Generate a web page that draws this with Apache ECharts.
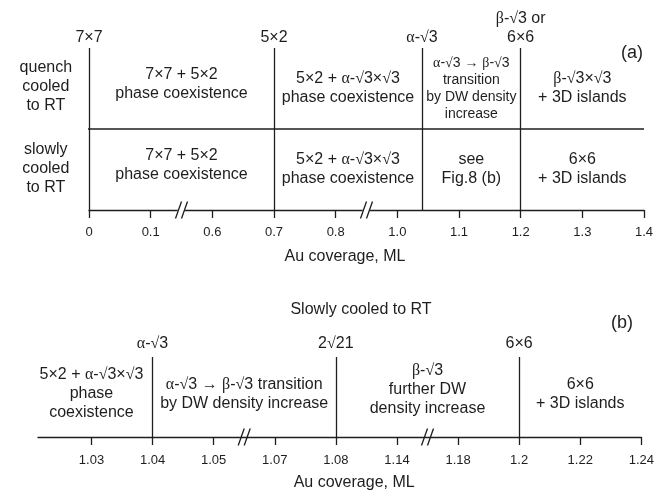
<!DOCTYPE html>
<html>
<head>
<meta charset="utf-8">
<script src="https://cdn.jsdelivr.net/npm/echarts@6/dist/echarts.min.js"></script>
<style>
html, body { margin: 0; background: #fff; }
#chart { width: 657px; height: 493px; }
</style>
</head>
<body>
<div id="chart"></div>
<script>
// tick labels of the two (broken) coverage axes, evenly spaced
var ticksA = ['0', '0.1', '0.6', '0.7', '0.8', '1.0', '1.1', '1.2', '1.3', '1.4'];
var ticksB = ['1.03', '1.04', '1.05', '1.07', '1.08', '1.14', '1.18', '1.2', '1.22', '1.24'];

// phase boundaries (ML) and their names
var boundA = [0, 0.7, 1.04, 1.2];
var boundNamesA = ['7×7', '5×2', 'α-√3', 'β-√3 or\n6×6'];
var boundB = [1.04, 1.08, 1.2];
var boundNamesB = ['α-√3', '2√21', '6×6'];

// axis breaks (between these coverages)
var breaksA = [[0.1, 0.6], [0.8, 1.0]];
var breaksB = [[1.05, 1.07], [1.14, 1.18]];

// panel (a) rows
var rowNamesA = ['quench\ncooled\nto RT', 'slowly\ncooled\nto RT'];
var quenchCells = ['7×7 + 5×2\nphase coexistence', '5×2 + α-√3×√3\nphase coexistence', 'α-√3 → β-√3\ntransition\nby DW density\nincrease', 'β-√3×√3\n+ 3D islands'];
var slowCells = ['7×7 + 5×2\nphase coexistence', '5×2 + α-√3×√3\nphase coexistence', 'see\nFig.8 (b)', '6×6\n+ 3D islands'];

// panel (b) cells
var cellsB = ['5×2 + α-√3×√3\nphase\ncoexistence', 'α-√3 → β-√3 transition\nby DW density increase', 'β-√3\nfurther DW\ndensity increase', '6×6\n+ 3D islands'];

var ink = '#1e1e1e';
var sans = "'Liberation Sans', Arial, Helvetica, sans-serif";
var serif = "'Liberation Serif', 'DejaVu Serif', serif";

// coverage -> position on the evenly spaced axis
function pos(v, ticks) {
	var t = ticks.map(Number);
	for (var i = 0; i < t.length - 1; i++) {
		if (v >= t[i] && v <= t[i + 1]) return i + (v - t[i]) / (t[i + 1] - t[i]);
	}
	return v < t[0] ? -1 : t.length - 1;
}

// greek letters, roots and arrows in a serif face like the original
function fmt(s) {
	return s.replace(/([αβ√→])/g, '{g|$1}');
}
function richOf(size, lh) {
	return { g: { fontFamily: serif, fontSize: size, lineHeight: lh, color: ink } };
}

function midpoints(edges) {
	var out = [];
	for (var i = 0; i < edges.length - 1; i++) out.push((edges[i] + edges[i + 1]) / 2);
	return out;
}

var idx = ticksA.map(function (d, i) { return i; });

// cell centres
var edgesA = boundA.map(function (b) { return pos(b, ticksA); }).concat([ticksA.length - 1]);
var centA = midpoints(edgesA);
var edgesB = [-1].concat(boundB.map(function (b) { return pos(b, ticksB); })).concat([ticksB.length - 1]);
var centB = midpoints(edgesB);

var cellDataA = [];
rowNamesA.forEach(function (n, r) {
	cellDataA.push({ value: [-0.7, r === 0 ? 1.52 : 0.51], name: n });
});
quenchCells.forEach(function (c, i) {
	var item = { value: [centA[i], i === 0 ? 1.56 : 1.5], name: c };
	if (i === 2) item.label = { fontSize: 14, lineHeight: 17, rich: richOf(14, 17) };
	cellDataA.push(item);
});
slowCells.forEach(function (c, i) {
	cellDataA.push({ value: [centA[i], i === 0 ? 0.55 : 0.5], name: c });
});

var cellDataB = cellsB.map(function (c, i) {
	return { value: [centB[i], i === 2 ? 0.59 : 0.54], name: c };
});

var slashPath = 'path://M0,17L6,0L7.4,0L1.4,17Z M6,17L12,0L13.4,0L7.4,17Z';
var gapPath = 'path://M0,17L6,0L13.4,0L7.4,17Z';
function breakData(breaks, ticks, gap) {
	var out = [];
	breaks.forEach(function (b) {
		var x = (pos(b[0], ticks) + pos(b[1], ticks)) / 2;
		if (gap) out.push({ value: [x, 0], symbol: gapPath, itemStyle: { color: '#fff', opacity: 1 } });
		out.push({ value: [x, 0], symbol: slashPath, itemStyle: { color: ink, opacity: 1 } });
	});
	return out;
}

function xAxisOf(grid, min, ticks, margin, nameGap, namePad) {
	return {
		type: 'value', gridIndex: grid, min: min, max: ticks.length - 1,
		axisLine: { show: true, lineStyle: { color: ink, width: 1.3 } },
		axisTick: { show: true, customValues: idx, length: 8, lineStyle: { color: ink, width: 1.3 } },
		axisLabel: {
			customValues: idx, margin: margin, color: ink, fontFamily: sans, fontSize: 13,
			formatter: function (v) { return ticks[Math.round(v)]; }
		},
		splitLine: { show: false },
		name: 'Au coverage, ML', nameLocation: 'middle', nameGap: nameGap,
		nameTextStyle: { color: ink, fontFamily: sans, fontSize: 16, padding: namePad }
	};
}

function cellLabel() {
	return {
		show: true, position: 'inside', color: ink, fontFamily: sans, fontSize: 16, lineHeight: 19,
		rich: richOf(16, 19),
		formatter: function (p) { return fmt(p.name); }
	};
}

function boundLines(bounds, names, ticks, dist) {
	return {
		silent: true, symbol: ['none', 'none'], animation: false,
		lineStyle: { color: ink, width: 1.3, type: 'solid', opacity: 1 },
		label: {
			show: true, position: 'end', distance: dist, color: ink, fontFamily: sans, fontSize: 16, lineHeight: 19,
			rich: richOf(16, 19),
			formatter: function (p) { return fmt(p.name); }
		},
		emphasis: { disabled: true },
		data: bounds.map(function (b, i) { return { xAxis: pos(b, ticks), name: names[i] }; })
	};
}

var chart = echarts.init(document.getElementById('chart'));

chart.setOption({
	animation: false,
	backgroundColor: '#fff',
	textStyle: { fontFamily: sans },
	grid: [
		{ left: 89, right: 13, top: 48, height: 162 },
		{ left: 38, right: 10, top: 357, height: 80 }
	],
	xAxis: [
		xAxisOf(0, 0, ticksA, 16, 39, [0, 43, 0, 0]),
		xAxisOf(1, -0.875, ticksB, 17, 38, [0, 0, 0, 29])
	],
	yAxis: [
		{ type: 'value', gridIndex: 0, min: 0, max: 2, show: false },
		{ type: 'value', gridIndex: 1, min: 0, max: 1, show: false }
	],
	graphic: [
		{ type: 'text', x: 361, y: 310, style: { text: 'Slowly cooled to RT', fill: ink, font: '16px ' + sans, textAlign: 'center', textVerticalAlign: 'middle' } },
		{ type: 'text', x: 632, y: 53, style: { text: '(a)', fill: ink, font: '18px ' + sans, textAlign: 'center', textVerticalAlign: 'middle' } },
		{ type: 'text', x: 622, y: 323, style: { text: '(b)', fill: ink, font: '18px ' + sans, textAlign: 'center', textVerticalAlign: 'middle' } }
	],
	series: [
		// separator between the two cooling rows
		{
			type: 'line', xAxisIndex: 0, yAxisIndex: 0, clip: false, silent: true,
			symbol: 'none', lineStyle: { color: ink, width: 1.3 },
			data: [[-1.33, 1], [ticksA.length - 1, 1]]
		},
		{
			type: 'scatter', xAxisIndex: 0, yAxisIndex: 0, clip: false, silent: true,
			symbolSize: 1, itemStyle: { color: 'rgba(0,0,0,0)', opacity: 1 },
			label: cellLabel(), data: cellDataA,
			markLine: boundLines(boundA, boundNamesA, ticksA, 1)
		},
		{
			type: 'scatter', xAxisIndex: 0, yAxisIndex: 0, clip: false, silent: true, z: 5,
			symbolSize: [13.4, 17], itemStyle: { opacity: 1 }, data: breakData(breaksA, ticksA, true)
		},
		{
			type: 'scatter', xAxisIndex: 1, yAxisIndex: 1, clip: false, silent: true,
			symbolSize: 1, itemStyle: { color: 'rgba(0,0,0,0)', opacity: 1 },
			label: cellLabel(), data: cellDataB,
			markLine: boundLines(boundB, boundNamesB, ticksB, 4)
		},
		{
			type: 'scatter', xAxisIndex: 1, yAxisIndex: 1, clip: false, silent: true, z: 5,
			symbolSize: [13.4, 17], itemStyle: { opacity: 1 }, data: breakData(breaksB, ticksB, false)
		}
	]
});
</script>
</body>
</html>
